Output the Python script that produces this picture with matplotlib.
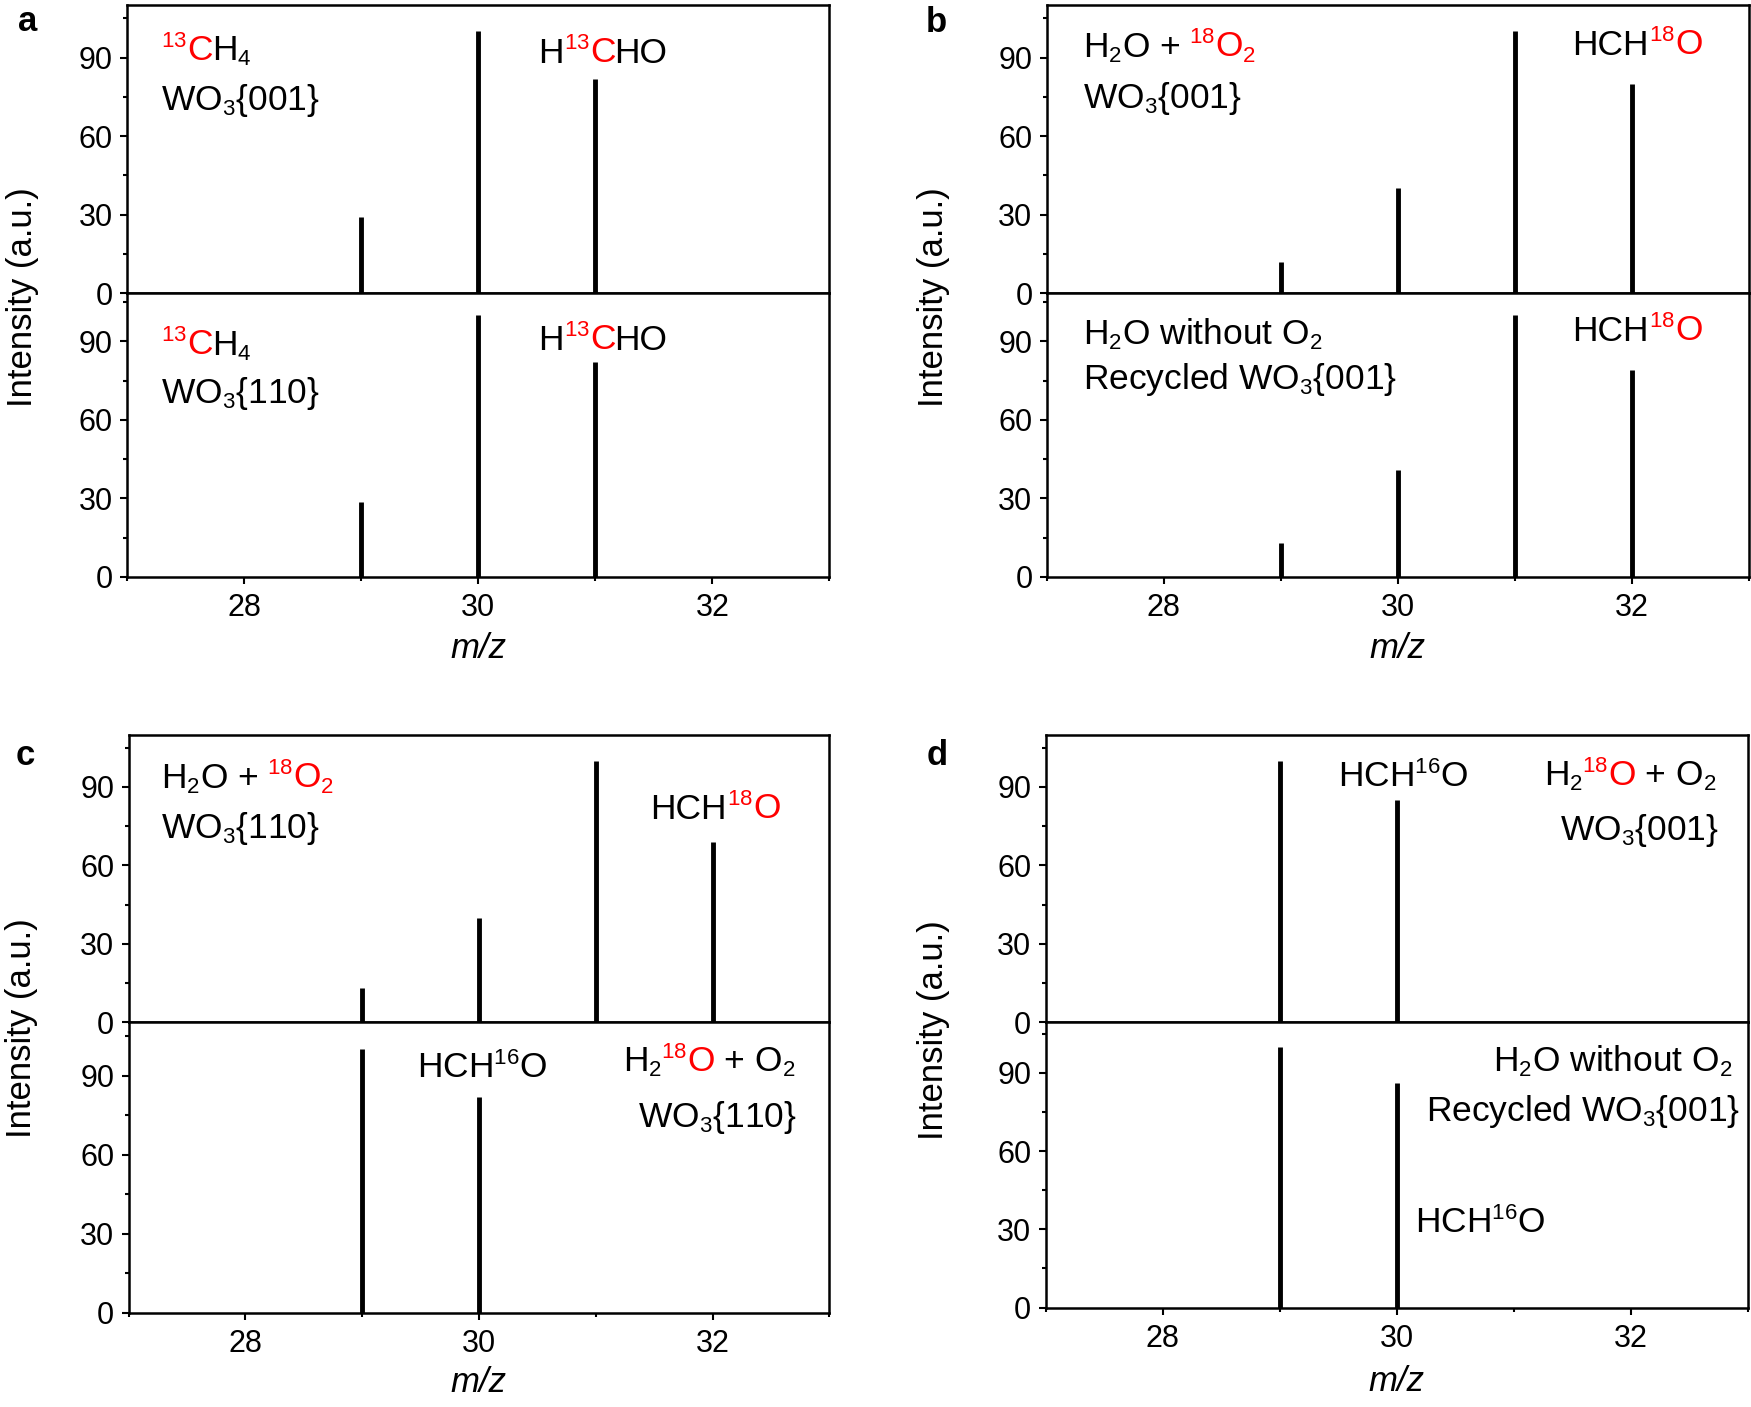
import matplotlib
matplotlib.use('Agg')
import matplotlib.pyplot as plt
from matplotlib.ticker import MultipleLocator
from matplotlib.transforms import blended_transform_factory

plt.rcParams['font.family'] = ['Liberation Sans', 'DejaVu Sans']
plt.rcParams['mathtext.fontset'] = 'custom'
plt.rcParams['mathtext.rm'] = 'Liberation Sans'
plt.rcParams['mathtext.it'] = 'Liberation Sans:italic'
plt.rcParams['mathtext.bf'] = 'Liberation Sans:bold'

# smaller sub/superscripts, closer to the original figure
try:
    import matplotlib._mathtext as _mt
    _mt.SHRINK_FACTOR = 0.63
except Exception:
    pass

RED = '#ff0000'
K = 'black'
W, H = 1751, 1407

# peak data (m/z, relative intensity)
a_mz = [29, 30, 31]
a_top = [29, 100, 82]
a_bot = [28.5, 100, 82]

b_mz = [29, 30, 31, 32]
b_top = [12, 40, 100, 80]
b_bot = [13, 41, 100, 79]

c_top_mz = [29, 30, 31, 32]
c_top = [13, 40, 100, 69]
c_bot_mz = [29, 30]
c_bot = [100, 82]

d_mz = [29, 30]
d_top = [100, 85]
d_bot = [100, 86]

xticks = [28, 30, 32]
yticks = [0, 30, 60, 90]

# annotations: (x, y baseline, [(text, colour), ...], align)
C13H4 = [("$^{13}$C", RED), ("H$_4$", K)]
H13CHO = [("H", K), ("$^{13}$C", RED), ("HO", K)]
H2O_18O2 = [("H$_2$O + ", K), ("$^{18}$O$_2$", RED)]
HCH18O = [("HCH", K), ("$^{18}$O", RED)]
HCH16O = [("HCH$^{16}$O", K)]
H218O_O2 = [("H$_2$", K), ("$^{18}$O", RED), (" + O$_2$", K)]
WO3_001 = [("WO$_3${001}", K)]
WO3_110 = [("WO$_3${110}", K)]
NO_O2 = [("H$_2$O without O$_2$", K)]
RECYC = [("Recycled WO$_3${001}", K)]

a_top_notes = [(27.29, 88.8, C13H4, 'left'), (27.29, 70.1, WO3_001, 'left'),
               (30.51, 88.0, H13CHO, 'left')]
a_bot_notes = [(27.29, 84.8, C13H4, 'left'), (27.29, 66.6, WO3_110, 'left'),
               (30.51, 86.5, H13CHO, 'left')]
b_top_notes = [(27.31, 90.0, H2O_18O2, 'left'), (27.31, 70.6, WO3_001, 'left'),
               (31.49, 91.0, HCH18O, 'left')]
b_bot_notes = [(27.31, 89.0, NO_O2, 'left'), (27.31, 71.6, RECYC, 'left'),
               (31.49, 90.0, HCH18O, 'left')]
c_top_notes = [(27.28, 89.3, H2O_18O2, 'left'), (27.28, 70.4, WO3_110, 'left'),
               (31.47, 77.9, HCH18O, 'left')]
c_bot_notes = [(29.47, 89.1, HCH16O, 'left'), (32.70, 91.6, H218O_O2, 'right'),
               (32.70, 70.7, WO3_110, 'right')]
d_top_notes = [(29.50, 90.1, HCH16O, 'left'), (32.72, 90.5, H218O_O2, 'right'),
               (32.73, 69.8, WO3_001, 'right')]
d_bot_notes = [(32.86, 90.6, NO_O2, 'right'), (32.91, 71.4, RECYC, 'right'),
               (30.16, 28.6, HCH16O, 'left')]

fig = plt.figure(figsize=(W / 100, H / 100), dpi=100)
renderer = fig.canvas.get_renderer()


def px_axes(left, right, top, bottom):
    return fig.add_axes([left / W, 1 - bottom / H, (right - left) / W, (bottom - top) / H])


def text_width(ax, s, size):
    t1 = ax.text(0, 0, s + '|', fontsize=size)
    t2 = ax.text(0, 0, '|', fontsize=size)
    w = t1.get_window_extent(renderer).width - t2.get_window_extent(renderer).width
    t1.remove()
    t2.remove()
    return w


def rich_text(ax, x, y, pieces, ha='left', size=25.5):
    widths = [text_width(ax, s, size) for s, c in pieces]
    off = 0 if ha == 'left' else -sum(widths)
    for (s, c), w in zip(pieces, widths):
        ax.annotate(s, (x, y), xytext=(off * 72 / fig.dpi, 0), textcoords='offset points',
                    color=c, fontsize=size, va='baseline', ha='left', annotation_clip=False)
        off += w


def style(ax, ymax, show_x):
    ax.set_xlim(27, 33)
    ax.set_ylim(0, ymax)
    ax.set_yticks(yticks)
    ax.yaxis.set_minor_locator(MultipleLocator(15))
    for sp in ax.spines.values():
        sp.set_linewidth(1.8)
    ax.tick_params(which='both', direction='out', width=1.5, labelsize=22, top=False, right=False)
    ax.tick_params(which='major', length=4.8)
    ax.tick_params(which='minor', length=2.7)
    ax.tick_params(axis='y', pad=5.5)
    if show_x:
        ax.set_xticks(xticks)
        ax.xaxis.set_minor_locator(MultipleLocator(1))
        ax.tick_params(axis='x', pad=7.0)
    else:
        ax.tick_params(axis='x', which='both', bottom=False, labelbottom=False)


def peaks(ax, mz, vals):
    ax.vlines(mz, 0, vals, colors='black', linewidth=3.5, capstyle='butt')


def panel(top_box, bot_box, top_data, bot_data, top_notes, bot_notes, ymax_bot):
    ax1 = px_axes(*top_box)
    ax2 = px_axes(*bot_box)
    peaks(ax1, *top_data)
    peaks(ax2, *bot_data)
    style(ax1, 110, False)
    style(ax2, ymax_bot, True)
    for x, y, pieces, ha in top_notes:
        rich_text(ax1, x, y, pieces, ha)
    for x, y, pieces, ha in bot_notes:
        rich_text(ax2, x, y, pieces, ha)
    return ax1, ax2


a1, a2 = panel((127.4, 829.3, 5.2, 293.2), (127.4, 829.3, 293.2, 576.8),
               (a_mz, a_top), (a_mz, a_bot), a_top_notes, a_bot_notes, 108.4)
b1, b2 = panel((1046.7, 1749.0, 5.2, 293.2), (1046.7, 1749.0, 293.2, 576.8),
               (b_mz, b_top), (b_mz, b_bot), b_top_notes, b_bot_notes, 108.4)
c1, c2 = panel((128.5, 829.3, 734.5, 1022.4), (128.5, 829.3, 1022.4, 1312.5),
               (c_top_mz, c_top), (c_bot_mz, c_bot), c_top_notes, c_bot_notes, 110.3)
d1, d2 = panel((1045.6, 1747.8, 734.5, 1022.4), (1045.6, 1747.8, 1022.4, 1307.6),
               (d_mz, d_top), (d_mz, d_bot), d_top_notes, d_bot_notes, 109.3)

# axis titles
for x, y in [(22.8, 297), (933.6, 297), (21.7, 1028), (933.6, 1030)]:
    fig.text(x / W, 1 - y / H, "Intensity (a.u.)", rotation=90, fontsize=25,
             ha='center', va='center')

for ax, y in [(a2, 658), (b2, 658), (c2, 1392), (d2, 1391)]:
    tr = blended_transform_factory(ax.transData, fig.transFigure)
    ax.text(30, 1 - y / H, "m/z", transform=tr, fontsize=25, fontstyle='italic',
            ha='center', va='baseline')

# panel letters
for lab, x, y in [('a', 17.9, 31.2), ('b', 926, 32.5), ('c', 15.2, 764.7), ('d', 927, 764.7)]:
    fig.text(x / W, 1 - y / H, lab, fontsize=25, fontweight='bold', ha='left', va='baseline')

fig.savefig('out.png', dpi=100)
